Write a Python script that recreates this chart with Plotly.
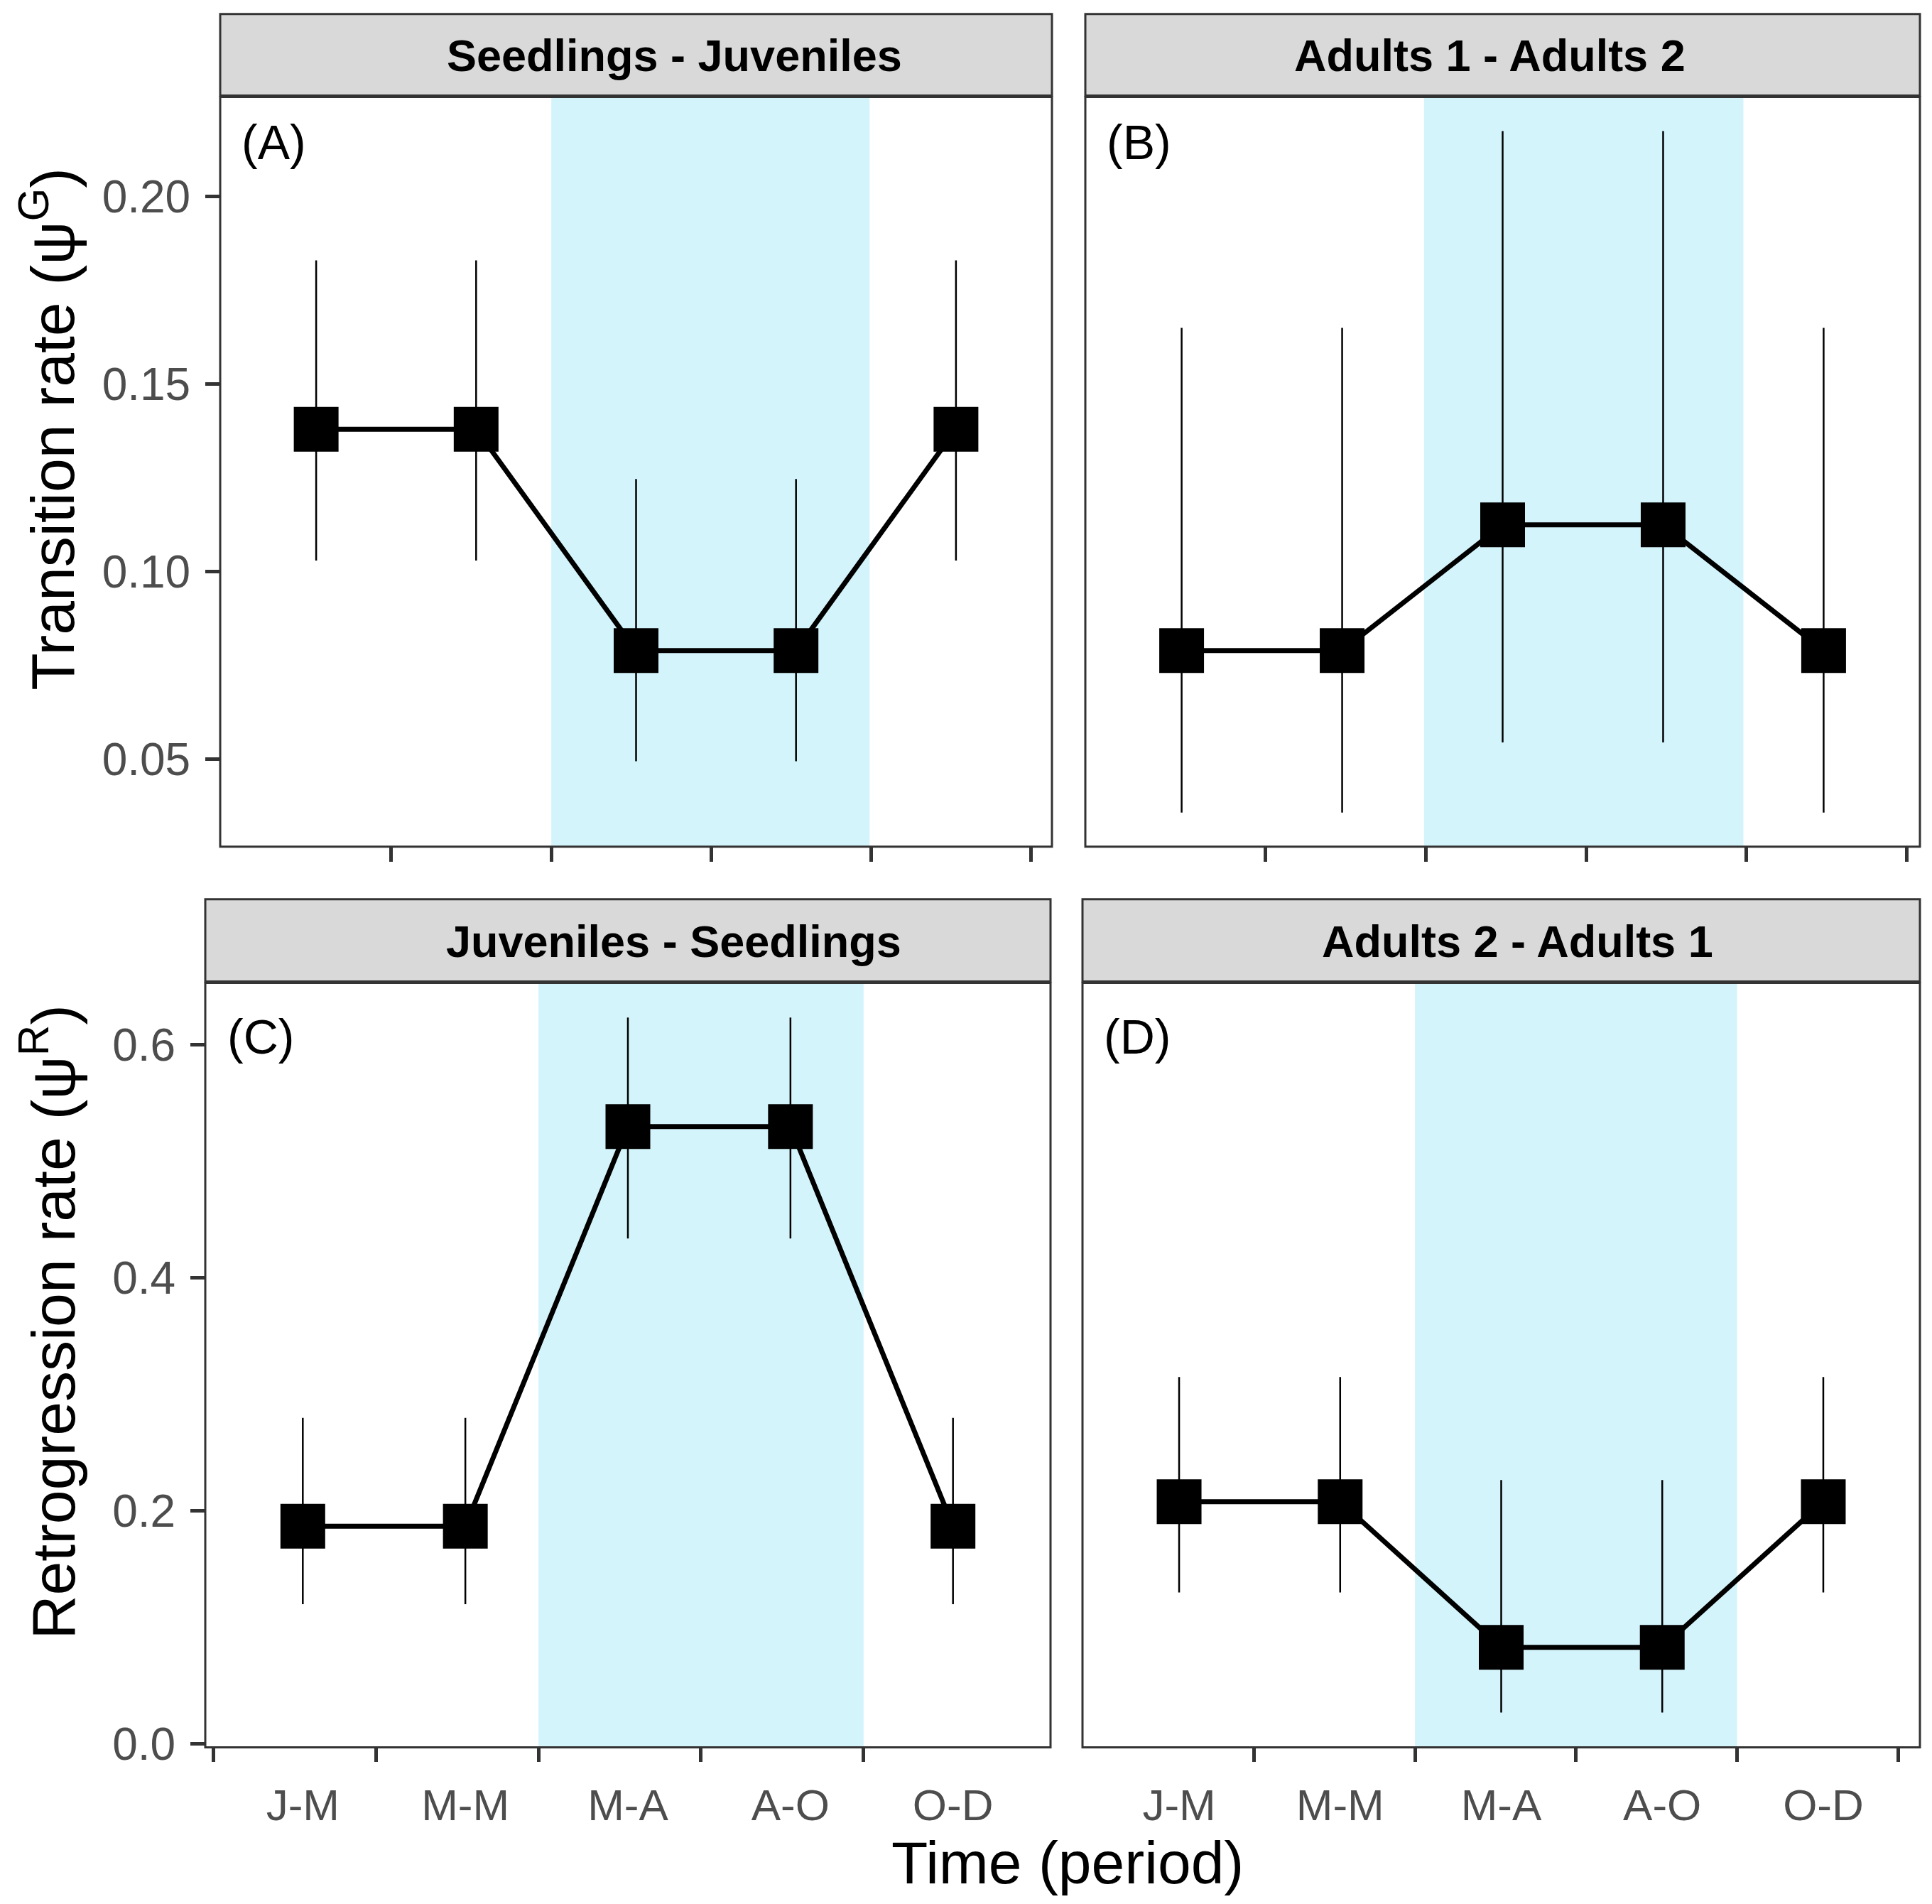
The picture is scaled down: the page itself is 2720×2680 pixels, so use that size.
import plotly.graph_objects as go

# periods on the x axis
periods = ["J-M", "M-M", "M-A", "A-O", "O-D"]

# (A) Seedlings - Juveniles, transition rate
a_est = [0.138, 0.138, 0.079, 0.079, 0.138]
a_lo = [0.103, 0.103, 0.0495, 0.0495, 0.103]
a_hi = [0.183, 0.183, 0.1247, 0.1247, 0.183]

# (B) Adults 1 - Adults 2, transition rate
b_est = [0.079, 0.079, 0.1125, 0.1125, 0.079]
b_lo = [0.0358, 0.0358, 0.0545, 0.0545, 0.0358]
b_hi = [0.165, 0.165, 0.2175, 0.2175, 0.165]

# (C) Juveniles - Seedlings, retrogression rate
c_est = [0.187, 0.187, 0.530, 0.530, 0.187]
c_lo = [0.120, 0.120, 0.434, 0.434, 0.120]
c_hi = [0.280, 0.280, 0.6236, 0.6236, 0.280]

# (D) Adults 2 - Adults 1, retrogression rate
d_est = [0.208, 0.208, 0.083, 0.083, 0.208]
d_lo = [0.130, 0.130, 0.027, 0.027, 0.130]
d_hi = [0.315, 0.315, 0.2266, 0.2266, 0.315]

strip_titles = ["Seedlings - Juveniles", "Adults 1 - Adults 2",
                "Juveniles - Seedlings", "Adults 2 - Adults 1"]
panel_tags = ["(A)", "(B)", "(C)", "(D)"]
top_ticks = [0.05, 0.10, 0.15, 0.20]
bottom_ticks = [0.0, 0.2, 0.4, 0.6]

W, H = 2720, 2680
FONT = "Liberation Sans, Arial, Helvetica, sans-serif"
DARK = "#333333"

xs = list(range(1, len(periods) + 1))


def padded(lo, hi):
    lo_v, hi_v = min(lo), max(hi)
    p = 0.05 * (hi_v - lo_v)
    return [lo_v - p, hi_v + p]


top_range = padded(a_lo + b_lo, a_hi + b_hi)
bottom_range = padded(c_lo + d_lo, c_hi + d_hi)

# pixel boxes: x0, x1, strip top, plot top, plot bottom; strip label centre; tag height
panels = [
    dict(est=a_est, lo=a_lo, hi=a_hi, box=(302, 1473, 12, 130, 1198), label_x=941,
         tag_y=0.94, tick0=1.47, shade=(2.47, 4.46)),
    dict(est=b_est, lo=b_lo, hi=b_hi, box=(1520, 2695, 12, 130, 1198), label_x=2089,
         tag_y=0.94, tick0=1.52, shade=(2.51, 4.50)),
    dict(est=c_est, lo=c_lo, hi=c_hi, box=(281, 1471, 1273, 1392, 2481), label_x=940,
         tag_y=0.93, tick0=0.45, shade=(2.45, 4.45)),
    dict(est=d_est, lo=d_lo, hi=d_hi, box=(1516, 2695, 1273, 1392, 2481), label_x=2128,
         tag_y=0.93, tick0=1.465, shade=(2.465, 4.465)),
]

fig = go.Figure()
shapes = []
annotations = []

for i, p in enumerate(panels):
    n = "" if i == 0 else str(i + 1)
    x0, x1, st, pt, pb = p["box"]
    left_col = i in (0, 2)
    bottom_row = i >= 2

    fig.add_trace(go.Scatter(
        x=xs, y=p["est"], mode="lines+markers",
        xaxis="x" + n, yaxis="y" + n,
        line=dict(color="black", width=7),
        marker=dict(symbol="square", size=63, color="black"),
        error_y=dict(type="data", symmetric=False,
                     array=[h - e for h, e in zip(p["hi"], p["est"])],
                     arrayminus=[e - l for e, l in zip(p["est"], p["lo"])],
                     width=0, thickness=2.5, color="black"),
        showlegend=False, cliponaxis=False,
    ))

    minor_vals = [p["tick0"] + k for k in range(len(periods))]
    fig.update_layout(**{
        "xaxis" + n: dict(
            domain=[x0 / W, x1 / W], anchor="y" + n, range=[0.4, 5.6],
            tickvals=xs, ticktext=periods, ticks="", showticklabels=bottom_row,
            tickfont=dict(size=62, color="#4D4D4D", family=FONT),
            ticklabelstandoff=40,
            minor=dict(tickvals=minor_vals, ticks="outside", ticklen=20,
                       tickwidth=5, tickcolor=DARK, showgrid=False),
            showgrid=False, zeroline=False, showline=False,
        ),
        "yaxis" + n: dict(
            domain=[1 - pb / H, 1 - pt / H], anchor="x" + n,
            range=bottom_range if bottom_row else top_range,
            tickvals=bottom_ticks if bottom_row else top_ticks,
            tickformat=".1f" if bottom_row else ".2f",
            ticks="outside" if left_col else "", ticklen=20, tickwidth=5, tickcolor=DARK,
            showticklabels=left_col,
            tickfont=dict(size=64, color="#4D4D4D", family=FONT),
            ticklabelstandoff=8,
            showgrid=False, zeroline=False, showline=False,
        ),
    })

    # shaded period band
    shapes.append(dict(type="rect", xref="x" + n, yref="y" + n + " domain",
                       x0=p["shade"][0], x1=p["shade"][1], y0=0, y1=1,
                       fillcolor="#D4F4FC", line=dict(width=0), layer="below"))
    # panel border
    shapes.append(dict(type="rect", xref="paper", yref="paper",
                       x0=x0 / W, x1=x1 / W, y0=1 - pb / H, y1=1 - pt / H,
                       line=dict(color=DARK, width=3), fillcolor="rgba(0,0,0,0)", layer="above"))
    # strip
    shapes.append(dict(type="rect", xref="paper", yref="paper",
                       x0=x0 / W, x1=x1 / W, y0=1 - (pt - 2) / H, y1=1 - st / H,
                       line=dict(color=DARK, width=3), fillcolor="#D9D9D9", layer="above"))
    annotations.append(dict(text="<b>" + strip_titles[i] + "</b>", xref="paper", yref="paper",
                            x=p["label_x"] / W, y=1 - (st + pt) / 2 / H,
                            showarrow=False, font=dict(size=63, color="black", family=FONT),
                            xanchor="center", yanchor="middle"))
    annotations.append(dict(text=panel_tags[i], xref="x" + n + " domain", yref="y" + n + " domain",
                            x=0.024, y=p["tag_y"], showarrow=False, xanchor="left", yanchor="middle",
                            font=dict(size=68, color="black", family=FONT)))

annotations.append(dict(text="Transition rate (ψ<sup>G</sup>)", xref="paper", yref="paper",
                        x=60 / W, y=1 - 603 / H, textangle=-90, showarrow=False,
                        xanchor="center", yanchor="middle",
                        font=dict(size=86, color="black", family=FONT)))
annotations.append(dict(text="Retrogression rate (ψ<sup>R</sup>)", xref="paper", yref="paper",
                        x=60 / W, y=1 - 1876 / H, textangle=-90, showarrow=False,
                        xanchor="center", yanchor="middle",
                        font=dict(size=86, color="black", family=FONT)))
annotations.append(dict(text="Time (period)", xref="paper", yref="paper",
                        x=1495 / W, y=1 - 2646 / H, showarrow=False,
                        xanchor="center", yanchor="middle",
                        font=dict(size=84, color="black", family=FONT)))

fig.update_layout(
    width=W, height=H,
    margin=dict(l=0, r=0, t=0, b=0),
    paper_bgcolor="white", plot_bgcolor="white",
    font=dict(family=FONT),
    shapes=shapes, annotations=annotations,
)

fig.write_html("out.html")
